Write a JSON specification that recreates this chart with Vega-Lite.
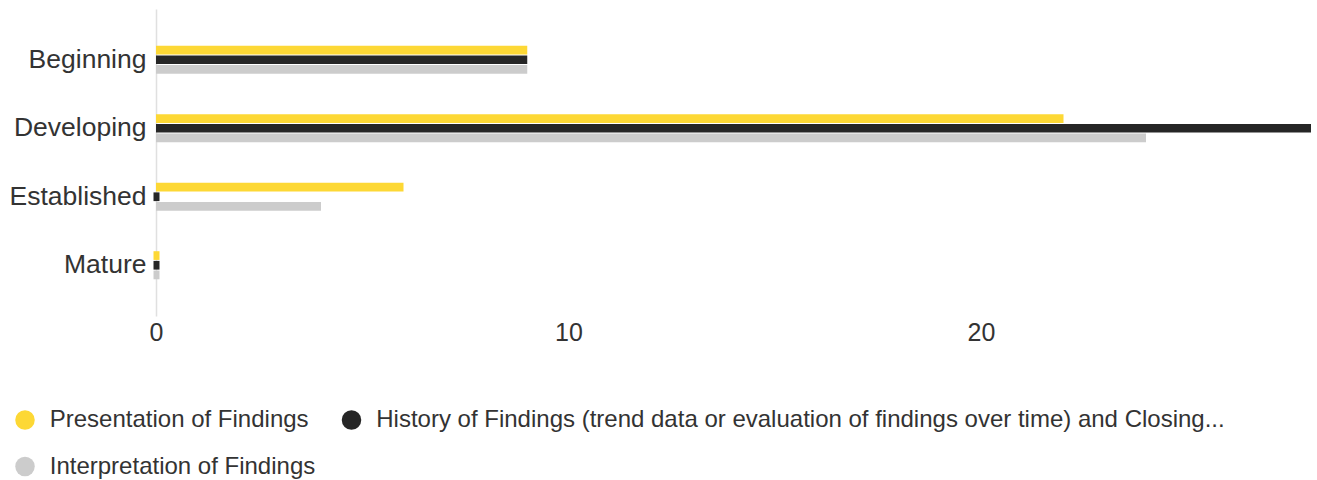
{
  "$schema": "https://vega.github.io/schema/vega-lite/v6.json",
  "width": 1155,
  "height": 307,
  "autosize": {"type": "none"},
  "padding": {"left": 156, "top": 9, "right": 6, "bottom": 164},
  "config": {"view": {"stroke": null}, "font": "Liberation Sans"},
  "data": {
    "values": [
      {"level": "Beginning", "series": "Presentation of Findings", "value": 9},
      {"level": "Beginning", "series": "History of Findings (trend data or evaluation of findings over time) and Closing...", "value": 9},
      {"level": "Beginning", "series": "Interpretation of Findings", "value": 9},
      {"level": "Developing", "series": "Presentation of Findings", "value": 22},
      {"level": "Developing", "series": "History of Findings (trend data or evaluation of findings over time) and Closing...", "value": 28},
      {"level": "Developing", "series": "Interpretation of Findings", "value": 24},
      {"level": "Established", "series": "Presentation of Findings", "value": 6},
      {"level": "Established", "series": "History of Findings (trend data or evaluation of findings over time) and Closing...", "value": 0},
      {"level": "Established", "series": "Interpretation of Findings", "value": 4},
      {"level": "Mature", "series": "Presentation of Findings", "value": 0},
      {"level": "Mature", "series": "History of Findings (trend data or evaluation of findings over time) and Closing...", "value": 0},
      {"level": "Mature", "series": "Interpretation of Findings", "value": 0}
    ]
  },
  "encoding": {
    "y": {
      "field": "level", "type": "nominal",
      "sort": ["Beginning", "Developing", "Established", "Mature"],
      "scale": {"paddingInner": 0.59, "paddingOuter": 0.536},
      "axis": {"title": null, "ticks": false, "domainColor": "#e0e0e0", "domainWidth": 1.5, "labelFontSize": 26.5, "labelColor": "#333333", "labelPadding": 10}
    },
    "x": {
      "field": "value", "type": "quantitative", "stack": null,
      "scale": {"domain": [0, 28], "nice": false},
      "axis": {"title": null, "grid": false, "domain": false, "ticks": false, "values": [0, 10, 20], "labelFlush": false, "labelFontSize": 25, "labelColor": "#333333", "labelPadding": 4}
    },
    "yOffset": {
      "field": "series", "type": "nominal",
      "sort": ["Presentation of Findings", "History of Findings (trend data or evaluation of findings over time) and Closing...", "Interpretation of Findings"],
      "scale": {"paddingInner": 0.1}
    },
    "color": {
      "field": "series", "type": "nominal",
      "scale": {
        "domain": ["Presentation of Findings", "History of Findings (trend data or evaluation of findings over time) and Closing...", "Interpretation of Findings"],
        "range": ["#FDD835", "#262626", "#CCCCCC"]
      },
      "legend": {
        "title": null, "orient": "none", "legendX": -143, "legendY": 399, "direction": "horizontal",
        "columns": 2, "symbolType": "circle", "symbolSize": 380, "symbolOpacity": 1,
        "labelFontSize": 24, "labelColor": "#333333", "labelOffset": 12.75,
        "columnPadding": 23.5, "rowPadding": 22.5, "labelLimit": 1200
      }
    }
  },
  "layer": [
    {"mark": {"type": "bar"}},
    {
      "transform": [{"filter": "datum.value == 0"}],
      "mark": {"type": "bar", "xOffset": -2.5, "x2Offset": 3.5},
      "encoding": {"x2": {"datum": 0}}
    }
  ]
}
